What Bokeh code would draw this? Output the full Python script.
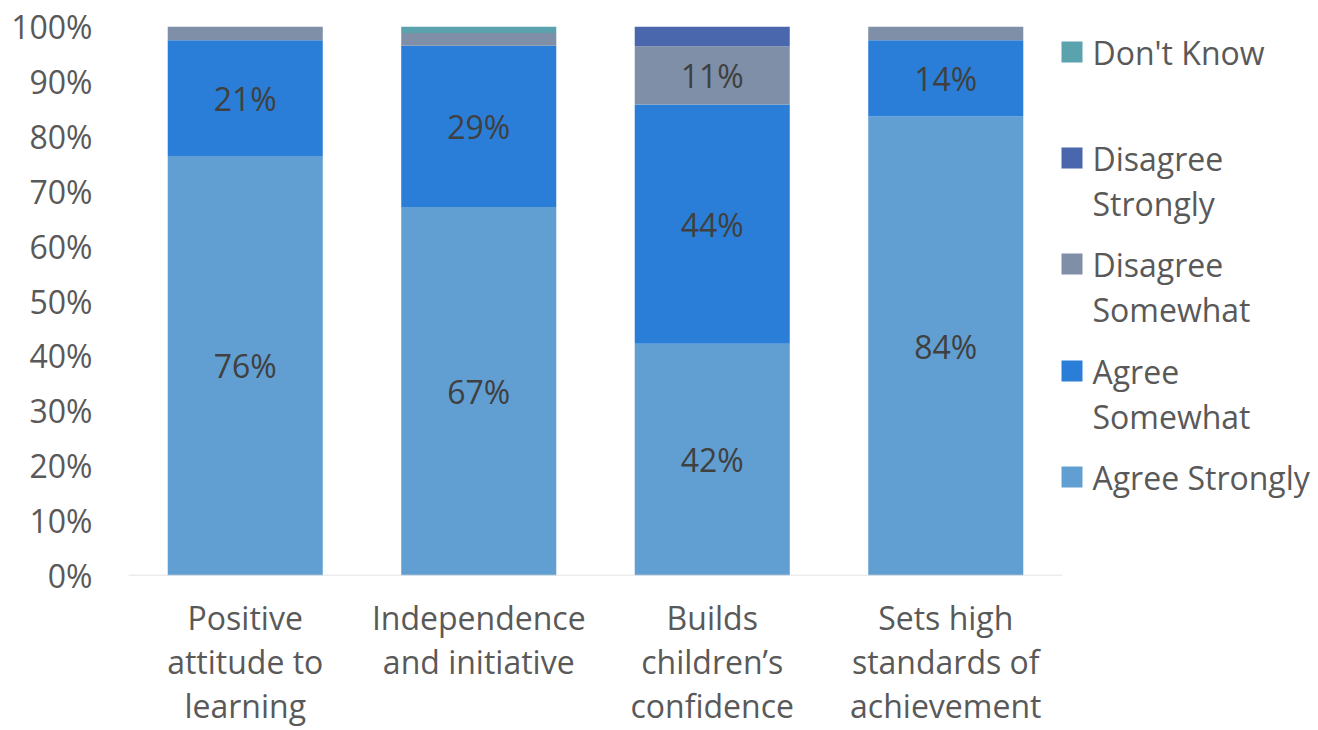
import numpy as np
from bokeh.plotting import figure
from bokeh.models import Range1d, FixedTicker, PrintfTickFormatter, ColumnDataSource
from bokeh.core.properties import value
from bokeh.embed import file_html
from bokeh.resources import INLINE

# ---- data ----
categories = ["Positive\nattitude to\nlearning",
              "Independence\nand initiative",
              "Builds\nchildren\u2019s\nconfidence",
              "Sets high\nstandards of\nachievement"]
series = ["Agree Strongly", "Agree Somewhat", "Disagree Somewhat", "Disagree Strongly", "Don't Know"]
agree_strongly = [76.4, 67.1, 42.2, 83.6]
agree_somewhat = [21.1, 29.4, 43.6, 13.9]
disagree_somewhat = [2.5, 2.3, 10.6, 2.5]
disagree_strongly = [0.0, 0.0, 3.6, 0.0]
dont_know = [0.0, 1.2, 0.0, 0.0]
colors = ["#619FD3", "#2A7ED7", "#7F8FA8", "#4A66AC", "#5AA2AE"]
y_ticks = list(range(0, 101, 10))
legend_labels = ["Don't Know", "Disagree\nStrongly", "Disagree\nSomewhat", "Agree\nSomewhat", "Agree Strongly"]

FONT = "Open Sans"
FS = "32px"

values = [agree_strongly, agree_somewhat, disagree_somewhat, disagree_strongly, dont_know]
xs = np.arange(len(categories)) + 0.5

# layout (pixels, canvas coords)
W, H = 1316, 730
left, top = 128, 26
frame_w, frame_h = 934, 549
right_px = W - left - frame_w
bottom = H - top - frame_h
unit = frame_w / len(categories)            # px per category
x_end = len(categories) + right_px / unit

p = figure(width=W, height=H, output_backend="svg", toolbar_location=None,
           x_range=Range1d(0, x_end), y_range=Range1d(0, 100),
           min_border_left=left, min_border_right=0, min_border_top=top,
           min_border_bottom=bottom)
p.outline_line_color = None
p.xgrid.visible = False
p.ygrid.visible = False
p.background_fill_color = "white"
p.border_fill_color = "white"

data = {"x": xs}
for s, v in zip(series, values):
    data[s] = v
src = ColumnDataSource(data)
p.vbar_stack(series, x="x", width=0.664, source=src, color=colors, line_color=None)

# baseline
p.segment(x0=[0], x1=[len(categories)], y0=[0], y1=[0], line_color="#D9D9D9", line_width=1.5)

# data labels
lx, ly, lt = [], [], []
cum = np.zeros(len(categories))
for v in values:
    v = np.array(v)
    for i in range(len(categories)):
        if v[i] >= 5:
            lx.append(xs[i]); ly.append(cum[i] + v[i] / 2); lt.append(f"{round(v[i])}%")
    cum += v
p.text(x=lx, y=ly, text=lt, text_align="center", text_baseline="middle",
       text_font=value(FONT), text_font_size=FS, text_color="#404040")

# axes
xa = p.xaxis[0]
xa.ticker = FixedTicker(ticks=list(xs))
xa.major_label_overrides = {float(x): c for x, c in zip(xs, categories)}
xa.axis_line_color = None
xa.major_tick_line_color = None
xa.minor_tick_line_color = None
xa.major_label_text_font = FONT
xa.major_label_text_font_size = FS
xa.major_label_text_color = "#595959"
xa.major_label_text_line_height = 1.03
xa.major_label_standoff = 14

ya = p.yaxis[0]
ya.ticker = FixedTicker(ticks=y_ticks)
ya.formatter = PrintfTickFormatter(format="%d%%")
ya.axis_line_color = None
ya.major_tick_line_color = None
ya.minor_tick_line_color = None
ya.major_label_text_font = FONT
ya.major_label_text_font_size = FS
ya.major_label_text_color = "#595959"
ya.major_label_standoff = 30

# legend (manual, top to bottom)
leg_colors = list(reversed(colors))
def py(px):  # canvas px -> data y
    return (top + frame_h - px) / frame_h * 100
def px_x(px):
    return (px - left) / unit
leg_y_px = [51.5, 157.5, 263.5, 370.5, 476.5]
line_gap_px = 45.5
sq_x = px_x(1071.5)
tx = px_x(1092)
p.scatter(x=[sq_x] * 5, y=[py(y) for y in leg_y_px], marker="square", size=21,
          color=leg_colors, line_color=None)
tx_list, ty_list, tt_list = [], [], []
for lab, yp in zip(legend_labels, leg_y_px):
    for k, line in enumerate(lab.split("\n")):
        tx_list.append(tx); ty_list.append(py(yp + k * line_gap_px)); tt_list.append(line)
p.text(x=tx_list, y=ty_list, text=tt_list,
       text_align="left", text_baseline="middle", text_font=value(FONT),
       text_font_size=FS, text_color="#595959")

open("out.html", "w").write(file_html(p, INLINE))
